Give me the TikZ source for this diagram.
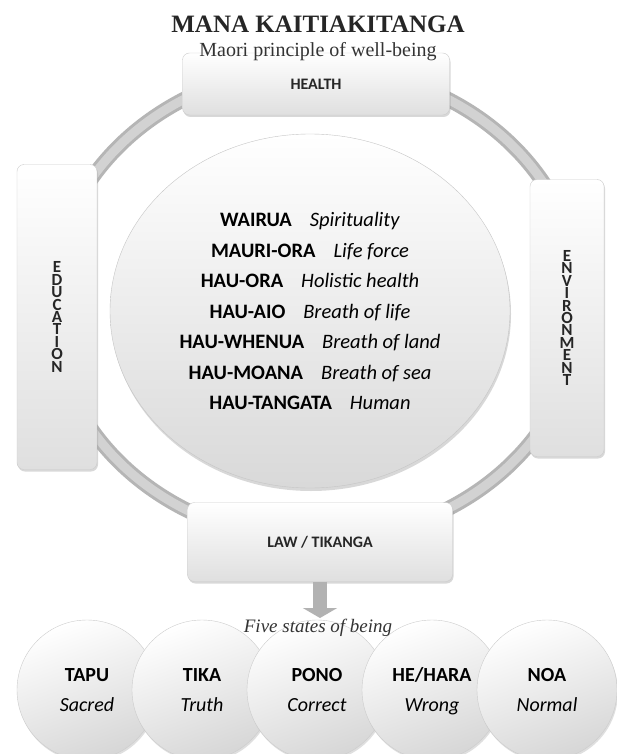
\documentclass[tikz,border=0pt]{standalone}
\usepackage{fontspec}
\setmainfont{Liberation Serif}
\newfontfamily\calibri{Carlito}
\usepackage{tikz}
\usetikzlibrary{positioning, shapes.geometric, shadows, arrows.meta}

\begin{document}
\begin{tikzpicture}[x=1pt,y=-1pt]
	\tikzstyle{box}=[draw=gray!40, rounded corners=7pt, top color=white, bottom color=gray!25, drop shadow={opacity=0.3, shadow xshift=1pt, shadow yshift=-2pt}, inner sep=0pt, text=black!85, font=\calibri\bfseries\fontsize{16}{16}\selectfont]
	\tikzstyle{stack}=[align=center, font=\calibri\bfseries\fontsize{17}{12.4}\selectfont]
	\tikzstyle{core}=[ellipse, draw=gray!45, top color=white, bottom color=gray!30, drop shadow={opacity=0.3, shadow xshift=1pt, shadow yshift=-3pt}, minimum width=400pt, minimum height=354pt, align=center, font=\calibri\fontsize{20.5}{30.5}\selectfont]
	\tikzstyle{state}=[circle, draw=gray!40, top color=white, bottom color=gray!32, shading angle=20, drop shadow={opacity=0.25, shadow xshift=1pt, shadow yshift=-2pt}, minimum size=140pt, align=center, font=\calibri\fontsize{20}{30}\selectfont]
	\tikzstyle{pointer}=[-{Triangle[width=34pt,length=10pt]}, line width=14pt, gray!60]
	\path[use as bounding box, fill=white] (0,0) rectangle (616,754);
	% ring behind the four boxes
	\draw[line width=15pt, gray!58] (316,304) ellipse [x radius=265, y radius=236];
	\draw[line width=9pt, gray!35] (316,304) ellipse [x radius=265, y radius=236];
	\node[core](core) at (310,311){%
		\textbf{WAIRUA}\hspace{18pt}\textit{Spirituality}\\
		\textbf{MAURI-ORA}\hspace{18pt}\textit{Life force}\\
		\textbf{HAU-ORA}\hspace{18pt}\textit{Holistic health}\\
		\textbf{HAU-AIO}\hspace{18pt}\textit{Breath of life}\\
		\textbf{HAU-WHENUA}\hspace{18pt}\textit{Breath of land}\\
		\textbf{HAU-MOANA}\hspace{18pt}\textit{Breath of sea}\\
		\textbf{HAU-TANGATA}\hspace{18pt}\textit{Human}};
	\node[box, minimum width=267pt, minimum height=62pt](health) at (316,84){HEALTH};
	\node[box, stack, minimum width=80pt, minimum height=305pt](educ) at (57,317){E\\D\\U\\C\\A\\T\\I\\O\\N};
	\node[box, stack, minimum width=74pt, minimum height=277pt](env) at (567,318){E\\N\\V\\I\\R\\O\\N\\M\\E\\N\\T};
	\node[box, minimum width=265pt, minimum height=79pt](law) at (320,542){LAW / TIKANGA};
	\node[font=\bfseries\fontsize{25}{25}\selectfont, text=black!85](title) at (318,24){MANA KAITIAKITANGA};
	\node[font=\fontsize{20}{20}\selectfont, text=black!80](subtitle) at (318,52){Maori principle of well-being};
	% five states of being
	\coordinate (tip) at (320,618);
	\draw[pointer] (law.south) -- (tip);
	\node[state](tapu) at (87,690){\textbf{TAPU}\\\textit{Sacred}};
	\node[state](tika) at (202,690){\textbf{TIKA}\\\textit{Truth}};
	\node[state](pono) at (317,690){\textbf{PONO}\\\textit{Correct}};
	\node[state](hehara) at (432,690){\textbf{\vphantom{A}\smash{HE/HARA}}\\\textit{\vphantom{N}\smash{Wrong}}};
	\node[state](noa) at (547,690){\textbf{NOA}\\\textit{Normal}};
	\node[font=\itshape\fontsize{19}{19}\selectfont, text=black!80](states) at (318,628){Five states of being};
\end{tikzpicture}
\end{document}
